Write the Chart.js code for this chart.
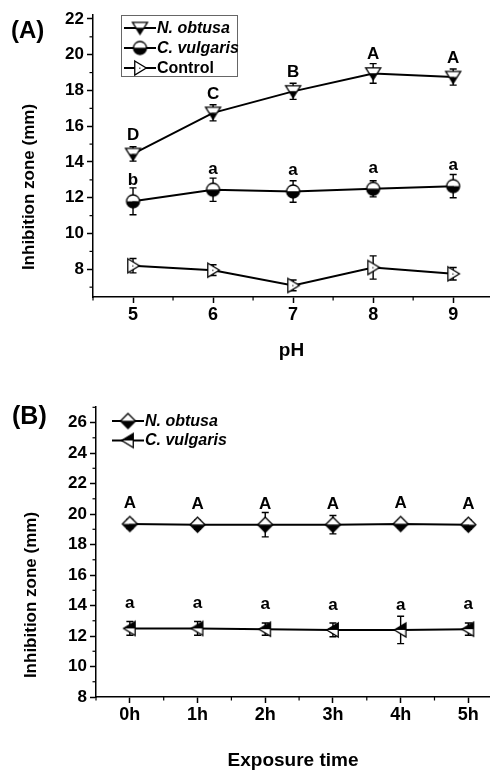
<!DOCTYPE html>
<html>
<head>
<meta charset="utf-8">
<script src="https://cdn.jsdelivr.net/npm/chart.js@4"></script>
<style>
html, body { margin:0; padding:0; background:#fff; overflow:hidden; }
#chartA { position:absolute; left:0; top:0; }
#chartB { position:absolute; left:0; top:360px; }
</style>
</head>
<body>
<canvas id="chartA" width="490" height="360"></canvas>
<canvas id="chartB" width="490" height="410"></canvas>
<script>
// panel A: inhibition zone vs pH
const PH = [5, 6, 7, 8, 9];
const PH_TICKS_Y = [8, 10, 12, 14, 16, 18, 20, 22];
const PH_OBTUSA = [14.45, 16.75, 17.95, 18.95, 18.75];
const PH_OBTUSA_SD = [0.4, 0.45, 0.45, 0.55, 0.45];
const PH_OBTUSA_LETTERS = ['D', 'C', 'B', 'A', 'A'];
const PH_VULGARIS = [11.8, 12.45, 12.35, 12.5, 12.65];
const PH_VULGARIS_SD = [0.75, 0.65, 0.6, 0.45, 0.65];
const PH_VULGARIS_LETTERS = ['b', 'a', 'a', 'a', 'a'];
const PH_CONTROL = [8.2, 7.95, 7.1, 8.1, 7.75];
const PH_CONTROL_SD = [0.4, 0.3, 0.3, 0.65, 0.35];

// panel B: inhibition zone vs exposure time
const HOURS = ['0h', '1h', '2h', '3h', '4h', '5h'];
const TIME_TICKS_Y = [8, 10, 12, 14, 16, 18, 20, 22, 24, 26];
const TIME_OBTUSA = [19.35, 19.3, 19.3, 19.3, 19.35, 19.3];
const TIME_OBTUSA_SD = [0.3, 0.3, 0.8, 0.6, 0.25, 0.3];
const TIME_OBTUSA_LETTERS = ['A', 'A', 'A', 'A', 'A', 'A'];
const TIME_VULGARIS = [12.5, 12.5, 12.45, 12.4, 12.4, 12.45];
const TIME_VULGARIS_SD = [0.45, 0.45, 0.4, 0.45, 0.9, 0.4];
const TIME_VULGARIS_LETTERS = ['a', 'a', 'a', 'a', 'a', 'a'];

const FAMILY = '"Liberation Sans", Arial, sans-serif';
const font = (size, style) => `${style || 'bold'} ${size}px ${FAMILY}`;

// half-filled markers drawn on small canvases
function shapePath(ctx, shape, x, y, r){
  ctx.beginPath();
  if(shape==='circle') ctx.arc(x, y, r, 0, Math.PI*2);
  else if(shape==='down'){ ctx.moveTo(x-r, y-r*0.75); ctx.lineTo(x+r, y-r*0.75); ctx.lineTo(x, y+r*0.85); ctx.closePath(); }
  else if(shape==='right'){ ctx.moveTo(x-r*0.75, y-r); ctx.lineTo(x+r*0.9, y); ctx.lineTo(x-r*0.75, y+r); ctx.closePath(); }
  else if(shape==='left'){ ctx.moveTo(x+r*0.75, y-r); ctx.lineTo(x-r*0.9, y); ctx.lineTo(x+r*0.75, y+r); ctx.closePath(); }
  else if(shape==='diamond'){ ctx.moveTo(x, y-r); ctx.lineTo(x+r, y); ctx.lineTo(x, y+r); ctx.lineTo(x-r, y); ctx.closePath(); }
}
function marker(shape, r, top, bottom, dot){
  const s = Math.ceil(2*r + 4);
  const c = document.createElement('canvas'); c.width = s; c.height = s;
  const ctx = c.getContext('2d'), m = s/2;
  ctx.save(); shapePath(ctx, shape, m, m, r); ctx.clip();
  ctx.fillStyle = top; ctx.fillRect(0, 0, s, m);
  ctx.fillStyle = bottom; ctx.fillRect(0, m, s, s-m);
  ctx.restore();
  shapePath(ctx, shape, m, m, r);
  ctx.strokeStyle = '#000'; ctx.lineWidth = 1.3; ctx.stroke();
  if(dot){ ctx.fillStyle = '#666'; ctx.fillRect(m-1, m-0.5, 1.5, 1.5); }
  return c;
}

const M_OBTUSA_A = marker('down', 7.5, '#fff', '#000');
const M_VULGARIS_A = marker('circle', 6.5, '#fff', '#000');
const M_CONTROL_A = marker('right', 7, '#fff', '#fff', true);
const M_OBTUSA_B = marker('diamond', 7.5, '#fff', '#000');
const M_VULGARIS_B = marker('left', 7, '#000', '#fff');

function pts(xs, ys){ return xs.map((x, i) => ({x: x, y: ys[i]})); }
function fixedTicks(values){ return s => { s.ticks = values.map(v => ({value: v})); }; }

function series(label, data, sd, letters, pointStyle, italic, gap){
  return { label, data, sd, letters, italic, gap, pointStyle, pointRadius:7,
    borderColor:'#000', borderWidth:2, backgroundColor:'#000', tension:0, clip:false };
}

const errorBars = {
  id:'errorBars',
  beforeDatasetsDraw(chart){
    const ctx = chart.ctx, y = chart.scales.y;
    ctx.save(); ctx.strokeStyle = '#000'; ctx.lineWidth = 1.4;
    chart.data.datasets.forEach((ds, i) => {
      chart.getDatasetMeta(i).data.forEach((p, j) => {
        const v = ds.data[j].y, e = ds.sd[j];
        const t = y.getPixelForValue(v+e), b = y.getPixelForValue(v-e);
        ctx.beginPath();
        ctx.moveTo(p.x, t); ctx.lineTo(p.x, b);
        ctx.moveTo(p.x-3.5, t); ctx.lineTo(p.x+3.5, t);
        ctx.moveTo(p.x-3.5, b); ctx.lineTo(p.x+3.5, b);
        ctx.stroke();
      });
    });
    ctx.restore();
  },
  afterDatasetsDraw(chart){
    const ctx = chart.ctx;
    ctx.save(); ctx.fillStyle = '#000'; ctx.font = font(17);
    ctx.textAlign = 'center'; ctx.textBaseline = 'alphabetic';
    chart.data.datasets.forEach((ds, i) => {
      if(!ds.letters) return;
      chart.getDatasetMeta(i).data.forEach((p, j) => ctx.fillText(ds.letters[j], p.x, p.y - ds.gap));
    });
    ctx.restore();
  }
};

const minorTicks = {
  id:'minorTicks',
  afterDraw(chart){
    const ctx = chart.ctx;
    ctx.save(); ctx.strokeStyle = '#000'; ctx.lineWidth = 1.2;
    ['x', 'y'].forEach(id => {
      const s = chart.scales[id];
      const vals = s.ticks.map(t => t.value), step = vals[1]-vals[0];
      for(let v = vals[0]-step/2; v <= s.max + 1e-9; v += step){
        if(v < s.min) continue;
        const p = s.getPixelForValue(v);
        ctx.beginPath();
        if(id==='x'){ ctx.moveTo(p, s.top); ctx.lineTo(p, s.top+3.5); }
        else { ctx.moveTo(s.right, p); ctx.lineTo(s.right-3.5, p); }
        ctx.stroke();
      }
    });
    ctx.restore();
  }
};

function drawYTitle(ctx, text, x, y){
  ctx.save(); ctx.translate(x, y); ctx.rotate(-Math.PI/2);
  ctx.fillStyle = '#000'; ctx.font = font(17);
  ctx.textAlign = 'center'; ctx.textBaseline = 'middle';
  ctx.fillText(text, 0, 0); ctx.restore();
}
function drawPanel(ctx, text, size, x, y){
  ctx.save(); ctx.fillStyle = '#000'; ctx.font = font(size);
  ctx.textAlign = 'left'; ctx.textBaseline = 'middle';
  ctx.fillText(text, x, y); ctx.restore();
}
function drawLegend(chart, x0, y0, gap){
  const ctx = chart.ctx;
  ctx.save();
  chart.data.datasets.forEach((ds, i) => {
    const y = y0 + i*gap, img = ds.pointStyle;
    ctx.strokeStyle = '#000'; ctx.lineWidth = 2;
    ctx.beginPath(); ctx.moveTo(x0, y); ctx.lineTo(x0+32, y); ctx.stroke();
    ctx.drawImage(img, x0+16-img.width/2, y-img.height/2);
    ctx.fillStyle = '#000'; ctx.font = font(16, ds.italic ? 'italic bold' : 'bold');
    ctx.textAlign = 'left'; ctx.textBaseline = 'middle';
    ctx.fillText(ds.label, x0+33, y+0.5);
  });
  ctx.restore();
}

function axes(xMin, xMax, xTicks, xTitle, yMin, yMax, yTicks, yWidth, xHeight, xLabel){
  const line = { display:true, drawOnChartArea:false, tickLength:6, tickColor:'#000', tickWidth:1.5 };
  return {
    x: { type:'linear', min:xMin, max:xMax, afterBuildTicks: fixedTicks(xTicks),
      border:{ color:'#000', width:1.5 }, grid: line,
      ticks:{ color:'#000', font:{ family:FAMILY, size:18, weight:'bold' }, padding:1, maxRotation:0,
        callback: xLabel },
      title:{ display:true, text:xTitle, color:'#000', font:{ family:FAMILY, size:19, weight:'bold', lineHeight:1 },
        padding:{ top:0, bottom:0 } },
      afterFit: s => { s.height = xHeight; s.paddingLeft = 0; s.paddingRight = 0; } },
    y: { min:yMin, max:yMax, afterBuildTicks: fixedTicks(yTicks),
      border:{ color:'#000', width:1.5 }, grid: line,
      ticks:{ color:'#000', font:{ family:FAMILY, size:17, weight:'bold' }, padding:3 },
      afterFit: s => { s.width = yWidth; s.paddingTop = 0; s.paddingBottom = 0; } }
  };
}

new Chart(document.getElementById('chartA'), {
  type:'line',
  data:{ datasets:[
    series('N. obtusa', pts(PH, PH_OBTUSA), PH_OBTUSA_SD, PH_OBTUSA_LETTERS, M_OBTUSA_A, true, 14),
    series('C. vulgaris', pts(PH, PH_VULGARIS), PH_VULGARIS_SD, PH_VULGARIS_LETTERS, M_VULGARIS_A, true, 16),
    series('Control', pts(PH, PH_CONTROL), PH_CONTROL_SD, null, M_CONTROL_A, false, 0)
  ]},
  options:{
    responsive:false, animation:false, events:[],
    layout:{ autoPadding:false, padding:{ top:15, left:0, right:0, bottom:0 } },
    plugins:{ legend:{ display:false }, tooltip:{ enabled:false } },
    scales: axes(4.5, 9.46, PH, 'pH', 6.45, 22.22, PH_TICKS_Y, 93, 63, v => v)
  },
  plugins:[errorBars, minorTicks, { id:'decoA', afterDraw(chart){
    const ctx = chart.ctx;
    drawYTitle(ctx, 'Inhibition zone (mm)', 29, 187);
    drawPanel(ctx, '(A)', 24, 11, 31);
    ctx.save(); ctx.strokeStyle = '#666'; ctx.lineWidth = 1; ctx.strokeRect(121.5, 15.5, 116, 61); ctx.restore();
    drawLegend(chart, 124, 28, 20);
  }}]
});

new Chart(document.getElementById('chartB'), {
  type:'line',
  data:{ datasets:[
    series('N. obtusa', pts([0, 1, 2, 3, 4, 5], TIME_OBTUSA), TIME_OBTUSA_SD, TIME_OBTUSA_LETTERS, M_OBTUSA_B, true, 16),
    series('C. vulgaris', pts([0, 1, 2, 3, 4, 5], TIME_VULGARIS), TIME_VULGARIS_SD, TIME_VULGARIS_LETTERS, M_VULGARIS_B, true, 20)
  ]},
  options:{
    responsive:false, animation:false, events:[],
    layout:{ autoPadding:false, padding:{ top:47, left:0, right:0, bottom:0 } },
    plugins:{ legend:{ display:false }, tooltip:{ enabled:false } },
    scales: axes(-0.5, 5.32, [0, 1, 2, 3, 4, 5], 'Exposure time', 8, 27.02, TIME_TICKS_Y, 96, 73, v => HOURS[v])
  },
  plugins:[errorBars, minorTicks, { id:'decoB', afterDraw(chart){
    const ctx = chart.ctx;
    drawYTitle(ctx, 'Inhibition zone (mm)', 31, 235);
    drawPanel(ctx, '(B)', 25, 12, 57);
    drawLegend(chart, 112, 61, 19.5);
  }}]
});
</script>
</body>
</html>
